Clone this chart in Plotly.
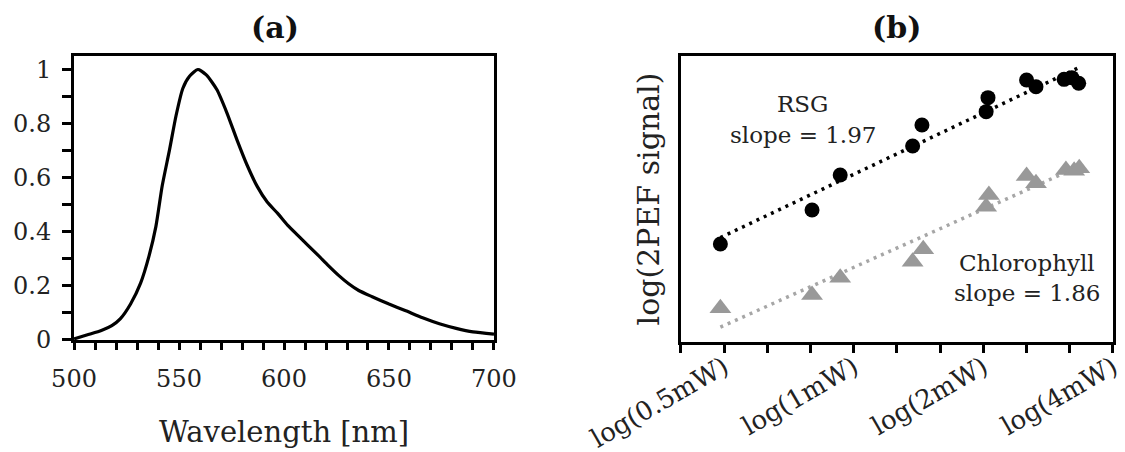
import numpy as np
import plotly.graph_objects as go

# ---------------- data: (a) emission spectrum ----------------
wavelength_nm = [500, 506.8, 513, 518, 522, 527, 531.7, 535.7, 539, 542, 545.4, 548.6,
                 551.8, 555, 559, 563, 568, 572.8, 577.6, 582.4, 587.3, 592, 597,
                 601.8, 606.6, 611.4, 616.3, 621, 626, 630.8, 635.6, 642, 650, 658,
                 666, 674, 682, 690, 700]
intensity = [0.004, 0.02, 0.035, 0.053, 0.078, 0.134, 0.21, 0.31, 0.42, 0.57, 0.70, 0.83,
             0.93, 0.975, 1.0, 0.98, 0.926, 0.84, 0.74, 0.647, 0.567, 0.51, 0.468,
             0.424, 0.387, 0.35, 0.313, 0.276, 0.239, 0.208, 0.183, 0.160, 0.133, 0.108,
             0.082, 0.060, 0.043, 0.030, 0.022]

# ---------------- data: (b) power dependence ----------------
rsg_power_mW = [0.49, 0.80, 0.93, 1.37, 1.44, 2.03, 2.05, 2.52, 2.65, 3.08, 3.21, 3.33]
rsg_log_signal = [0.945, 1.273, 1.611, 1.891, 2.093, 2.222, 2.357, 2.527, 2.463, 2.534, 2.55, 2.496]
rsg_slope = 1.97

chl_power_mW = [0.49, 0.80, 0.93, 1.37, 1.45, 2.03, 2.06, 2.52, 2.65, 3.11, 3.25, 3.34]
chl_log_signal = [0.325, 0.453, 0.620, 0.775, 0.894, 1.305, 1.418, 1.601, 1.531, 1.659, 1.653, 1.676]
chl_slope = 1.86

label_powers_mW = [0.5, 1, 2, 4]
label_texts = ["log(0.5mW)", "log(1mW)", "log(2mW)", "log(4mW)"]

FONT = "DejaVu Serif"

rsg_x = np.log10(rsg_power_mW)
chl_x = np.log10(chl_power_mW)

def fit_line(x, y, slope):
    x = np.asarray(x); y = np.asarray(y)
    b = np.mean(y - slope * x)
    xs = np.array([x.min(), x.max()])
    return xs, slope * xs + b

rsg_fx, rsg_fy = fit_line(rsg_x, rsg_log_signal, rsg_slope)
chl_fx, chl_fy = fit_line(chl_x, chl_log_signal, chl_slope)

step = np.log10(2) / 3
tick_pos = [np.log10(0.5) + k * step for k in range(-1, 10)]
label_pos = np.log10(label_powers_mW)
tick_text = []
for t in tick_pos:
    d = np.abs(label_pos - t)
    i = int(np.argmin(d))
    tick_text.append(label_texts[i] if d[i] < 1e-6 else "")

fig = go.Figure()

fig.add_trace(go.Scatter(x=wavelength_nm, y=intensity, mode="lines",
                         line=dict(color="black", width=3.2, shape="spline", smoothing=0.6),
                         xaxis="x", yaxis="y", showlegend=False))

fig.add_trace(go.Scatter(x=rsg_fx, y=rsg_fy, mode="lines",
                         line=dict(color="black", width=3.5, dash="3px,5px"),
                         xaxis="x2", yaxis="y2", showlegend=False))
fig.add_trace(go.Scatter(x=chl_fx, y=chl_fy, mode="lines",
                         line=dict(color="#a6a6a6", width=3.5, dash="3px,5px"),
                         xaxis="x2", yaxis="y2", showlegend=False))
fig.add_trace(go.Scatter(x=rsg_x, y=rsg_log_signal, mode="markers",
                         marker=dict(symbol="circle", size=15, color="black"),
                         xaxis="x2", yaxis="y2", showlegend=False))
fig.add_trace(go.Scatter(x=chl_x, y=chl_log_signal, mode="markers",
                         marker=dict(symbol="triangle-up", size=19, color="#999999"),
                         xaxis="x2", yaxis="y2", showlegend=False))

axis_common = dict(showline=True, linecolor="black", linewidth=3, mirror=True,
                   showgrid=False, zeroline=False, automargin=False,
                   tickfont=dict(family=FONT, size=24, color="#222"))

fig.update_layout(
    width=1125, height=452,
    margin=dict(l=0, r=0, t=0, b=0, autoexpand=False),
    paper_bgcolor="white", plot_bgcolor="white",
    xaxis=dict(domain=[0.0658, 0.4391], range=[500, 700], anchor="y",
               tickvals=[500, 550, 600, 650, 700], ticks="outside", ticklen=7, tickwidth=3,
               tickcolor="black", ticklabelstandoff=8,
               minor=dict(dtick=10, tick0=500, ticks="outside", ticklen=7, tickwidth=3, tickcolor="black"),
               title=dict(text="Wavelength [nm]", font=dict(family=FONT, size=29, color="#222"), standoff=30),
               **axis_common),
    yaxis=dict(domain=[0.2478, 0.8761], range=[0, 1.05], anchor="x",
               tickvals=[0, 0.2, 0.4, 0.6, 0.8, 1], ticks="outside", ticklen=9, tickwidth=3,
               tickcolor="black", ticklabelstandoff=6,
               minor=dict(dtick=0.1, tick0=0, ticks="outside", ticklen=9, tickwidth=3, tickcolor="black"),
               **axis_common),
    xaxis2=dict(domain=[0.6053, 0.9893], range=[tick_pos[0], tick_pos[-1]], anchor="y2",
                tickmode="array", tickvals=tick_pos, ticktext=tick_text, tickangle=-30,
                ticks="outside", ticklen=8, tickwidth=3, tickcolor="black", ticklabelstandoff=-11,
                **{**axis_common, "tickfont": dict(family=FONT, size=26, color="#222")}),
    yaxis2=dict(domain=[0.2434, 0.8761], range=[0, 2.759], anchor="x2",
                showticklabels=False, ticks="",
                title=dict(text="log(2PEF signal)", font=dict(family=FONT, size=30, color="#222"), standoff=10),
                **axis_common),
)

ann_font = dict(family=FONT, size=23, color="#222")
fig.add_annotation(x=0.2445, y=0.940, xref="paper", yref="paper", text="<b>(a)</b>",
                   xanchor="center", yanchor="middle",
                   showarrow=False, font=dict(family=FONT, size=30, color="#111"))
fig.add_annotation(x=0.797, y=0.940, xref="paper", yref="paper", text="<b>(b)</b>",
                   xanchor="center", yanchor="middle",
                   showarrow=False, font=dict(family=FONT, size=30, color="#111"))
fig.add_annotation(x=-0.118, y=2.296, xref="x2", yref="y2", text="RSG", showarrow=False, font=ann_font)
fig.add_annotation(x=-0.118, y=1.997, xref="x2", yref="y2", text="slope = 1.97", showarrow=False, font=ann_font)
fig.add_annotation(x=0.4024, y=0.762, xref="x2", yref="y2", text="Chlorophyll", showarrow=False, font=ann_font)
fig.add_annotation(x=0.4024, y=0.473, xref="x2", yref="y2", text="slope = 1.86", showarrow=False, font=ann_font)

fig.write_html("out.html")
